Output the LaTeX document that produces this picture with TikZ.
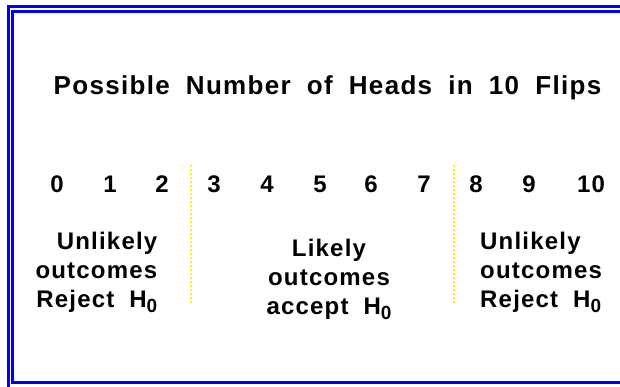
\documentclass[tikz,border=0pt]{standalone}
\usepackage{fontspec}
\setmainfont[LetterSpace=5, WordSpace=1.9]{Liberation Sans}
\usetikzlibrary{positioning}

\newcommand{\Hnull}{H\raisebox{-5pt}{\fontsize{19}{19}\selectfont 0}}

\begin{document}
\begin{tikzpicture}[x=1pt, y=-1pt,
    every node/.style={font=\fontsize{24}{29}\selectfont\bfseries, inner sep=0pt},
    title/.style={font=\fontsize{26}{31}\selectfont\bfseries},
    num/.style={anchor=base},
    outcome/.style={align=#1},
    frameline/.style={draw=blue, line width=3.4pt},
    divider/.style={draw=yellow, dash pattern=on 2pt off 2pt, line width=1.3pt}]

  \useasboundingbox (0,0) rectangle (620,386);
  \clip (0,0) rectangle (620,386);

  % double frame, cut off at the right
  \draw[frameline] (8.5,400) -- (8.5,6.5) -- (640,6.5);
  \draw[frameline] (640,382.5) -- (12.5,382.5) -- (12.5,11.2) -- (640,11.2);

  \node[title, anchor=base] (title) at (327.5,94) {Possible Number of Heads in 10 Flips};

  % number of heads
  \foreach \n/\px in {0/57, 1/110, 2/162, 3/214, 4/267, 5/320, 6/371, 7/424, 8/476, 9/529, 10/591}
    \node[num] (n\n) at (\px,192) {\n};

  % dividers
  \coordinate (lefttop) at (191,165);
  \coordinate (leftbot) at (191,305);
  \coordinate (righttop) at (454,165);
  \coordinate (rightbot) at (454,305);
  \draw[divider] (lefttop) -- (leftbot);
  \draw[divider] (righttop) -- (rightbot);

  \node[outcome=right, anchor=north east] (lowreg) at (157.5,231.5) {Unlikely\\outcomes\\Reject \Hnull};
  \node[outcome=center, anchor=north] (midreg) at (329,238.5) {Likely\\outcomes\\accept \Hnull};
  \node[outcome=left, anchor=north west] (highreg) at (480,231.5) {Unlikely\\outcomes\\Reject \Hnull};
\end{tikzpicture}
\end{document}
